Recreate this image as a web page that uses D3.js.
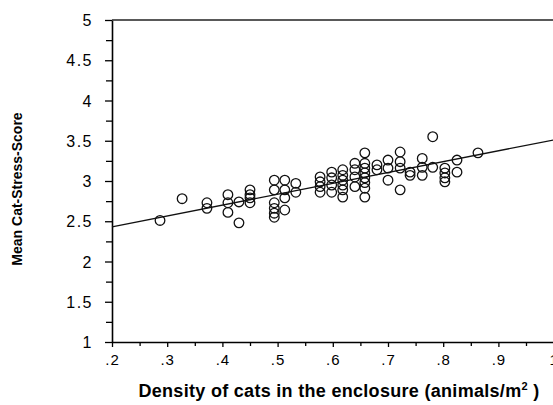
<!DOCTYPE html>
<html>
<head>
<meta charset="utf-8">
<script src="https://cdn.jsdelivr.net/npm/d3@7"></script>
<style>
  html, body { margin: 0; padding: 0; background: #fff; }
  svg { display: block; font-family: "Liberation Sans", Arial, sans-serif; }
</style>
</head>
<body>
<svg id="chart"></svg>
<script>
// density columns and the stress scores read at each one
const densities = [0.287, 0.327, 0.372, 0.41, 0.43, 0.45, 0.494, 0.513, 0.533, 0.577,
    0.598, 0.618, 0.64, 0.658, 0.68, 0.70, 0.722, 0.74, 0.762, 0.781, 0.803, 0.825, 0.863];
const scores = [
    [2.51],
    [2.78],
    [2.73, 2.66],
    [2.83, 2.73, 2.61],
    [2.74, 2.48],
    [2.89, 2.83, 2.79, 2.73],
    [3.01, 2.89, 2.73, 2.66, 2.60, 2.55],
    [3.01, 2.89, 2.79, 2.64],
    [2.97, 2.86],
    [3.05, 2.99, 2.93, 2.86],
    [3.11, 3.04, 2.95, 2.86],
    [3.14, 3.07, 3.01, 2.95, 2.89, 2.80],
    [3.22, 3.14, 3.05, 2.93],
    [3.35, 3.22, 3.16, 3.10, 3.04, 2.98, 2.91, 2.80],
    [3.20, 3.14],
    [3.26, 3.16, 3.01],
    [3.36, 3.24, 3.16, 2.89],
    [3.11, 3.07],
    [3.28, 3.17, 3.07],
    [3.55, 3.17],
    [3.16, 3.10, 3.04, 2.99],
    [3.26, 3.11],
    [3.35]
];
// fitted line end points
const fitX = [0.2, 1.0];
const fitY = [2.43, 3.51];

const xTicks = [0.2, 0.3, 0.4, 0.5, 0.6, 0.7, 0.8, 0.9, 1.0];
const xTickLabels = [".2", ".3", ".4", ".5", ".6", ".7", ".8", ".9", "1"];
const yTicks = [1, 1.5, 2, 2.5, 3, 3.5, 4, 4.5, 5];
const yTickLabels = ["1", "1.5", "2", "2.5", "3", "3.5", "4", "4.5", "5"];

const width = 553, height = 405;
const margin = { top: 20, left: 112, bottom: 63 };

const points = [];
densities.forEach((d, i) => scores[i].forEach(s => points.push({ x: d, y: s })));

const svg = d3.select("#chart").attr("width", width).attr("height", height);

const x = d3.scaleLinear().domain([0.2, 1.0]).range([margin.left, 553.6]);
const y = d3.scaleLinear().domain([1, 5]).range([height - margin.bottom, margin.top]);

// minor ticks first, labels come from the major axis
svg.append("g")
    .attr("transform", `translate(0, ${y(1)})`)
    .call(d3.axisBottom(x).tickValues(d3.range(0.25, 1.0, 0.1)).tickSize(4).tickFormat(""))
    .call(g => g.select(".domain").remove());
svg.append("g")
    .attr("transform", `translate(${x(0.2)}, 0)`)
    .call(d3.axisLeft(y).tickValues(d3.range(1.25, 5, 0.5)).tickSize(6).tickFormat(""))
    .call(g => g.select(".domain").remove());

const xAxis = svg.append("g")
    .attr("transform", `translate(0, ${y(1)})`)
    .call(d3.axisBottom(x).tickValues(xTicks).tickSizeInner(5).tickSizeOuter(0)
        .tickFormat((d, i) => xTickLabels[i]));
const yAxis = svg.append("g")
    .attr("transform", `translate(${x(0.2)}, 0)`)
    .call(d3.axisLeft(y).tickValues(yTicks).tickSizeInner(7).tickSizeOuter(0)
        .tickFormat((d, i) => yTickLabels[i]));

svg.selectAll(".domain").attr("stroke-width", 1.6);
svg.selectAll(".tick line").attr("stroke-width", 1.3);
xAxis.selectAll("text")
    .style("font-size", "15px").style("font-family", "'Liberation Sans'")
    .style("letter-spacing", "1px").attr("dy", "1.0em");
yAxis.selectAll("text")
    .style("font-size", "16px").style("font-family", "'Liberation Sans'")
    .style("letter-spacing", "1.5px").attr("x", -19).attr("dy", "0.35em");

// top frame line
svg.append("line")
    .attr("x1", x(0.2)).attr("x2", width)
    .attr("y1", y(5)).attr("y2", y(5))
    .attr("stroke", "#222").attr("stroke-width", 1.3);

svg.append("line")
    .attr("x1", x(fitX[0])).attr("y1", y(fitY[0]))
    .attr("x2", x(fitX[1])).attr("y2", y(fitY[1]))
    .attr("stroke", "#111").attr("stroke-width", 1.3);

svg.append("g").selectAll("circle")
    .data(points)
    .join("circle")
    .attr("cx", d => x(d.x))
    .attr("cy", d => y(d.y))
    .attr("r", 4.8)
    .attr("fill", "none")
    .attr("stroke", "#111")
    .attr("stroke-width", 1.3);

svg.append("text")
    .attr("transform", `translate(22, ${(y(5) + y(1)) / 2 + 8}) rotate(-90)`)
    .attr("text-anchor", "middle")
    .attr("font-size", 14)
    .attr("font-weight", "bold")
    .text("Mean Cat-Stress-Score");

const xLabel = svg.append("text")
    .attr("x", 339)
    .attr("y", 397)
    .attr("text-anchor", "middle")
    .attr("font-size", 18)
    .attr("letter-spacing", 0.3)
    .attr("font-weight", "bold");
xLabel.append("tspan").text("Density of cats in the enclosure (animals/m");
xLabel.append("tspan").attr("font-size", 11).attr("dy", -7).text("2");
xLabel.append("tspan").attr("dy", 7).text(" )");
</script>
</body>
</html>
